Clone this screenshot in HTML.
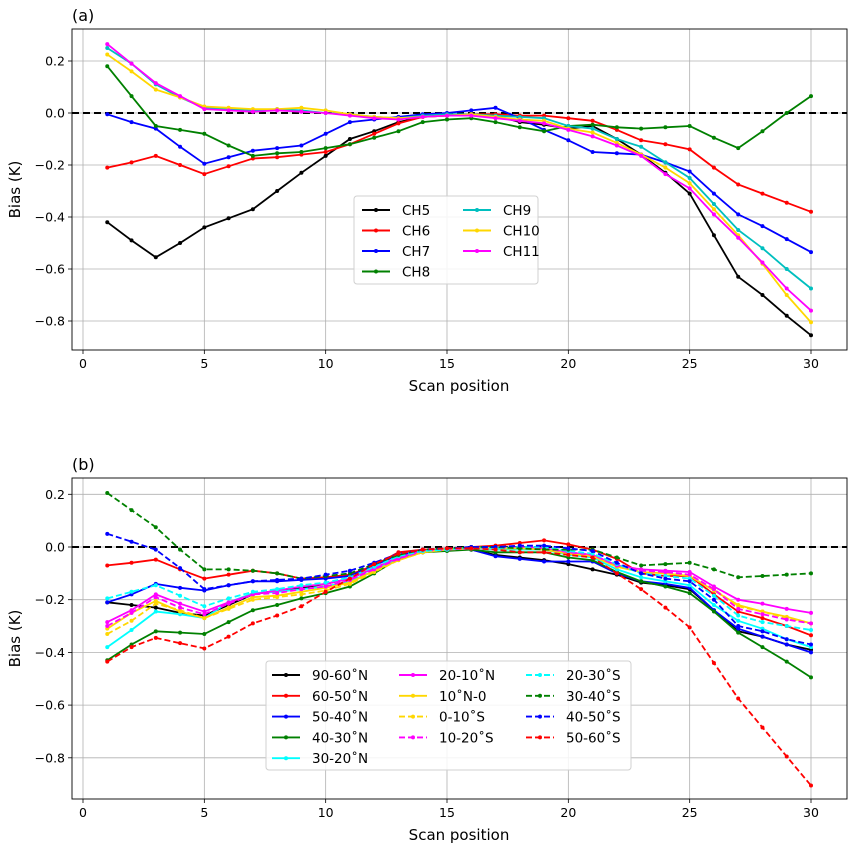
<!DOCTYPE html>
<html><head><meta charset="utf-8">
<style>
body{margin:0;background:#fff;}
svg{display:block;font-family:"DejaVu Sans","Liberation Sans",sans-serif;}
</style></head>
<body>
<svg id="fig" width="856" height="851" viewBox="0 0 856 851" xmlns="http://www.w3.org/2000/svg"></svg>
<script>
const scanPositions = Array.from({length:30},(_,i)=>i+1);
const xTicks = [0,5,10,15,20,25,30];
const yTicks = [0.2,0.0,-0.2,-0.4,-0.6,-0.8];
const yTickLabels = ["0.2","0.0","−0.2","−0.4","−0.6","−0.8"];

const chNames = ["CH5","CH6","CH7","CH8","CH9","CH10","CH11"];
const chColors = ["#000000","#ff0000","#0000ff","#008000","#00bfbf","#ffd700","#ff00ff"];
const ch5 = [-0.42,-0.49,-0.555,-0.50,-0.44,-0.405,-0.37,-0.30,-0.23,-0.165,-0.10,-0.07,-0.035,-0.015,-0.01,-0.005,-0.01,-0.035,-0.045,-0.06,-0.05,-0.1,-0.16,-0.23,-0.31,-0.47,-0.63,-0.70,-0.78,-0.855];
const ch6 = [-0.21,-0.19,-0.165,-0.20,-0.235,-0.205,-0.175,-0.17,-0.16,-0.15,-0.12,-0.08,-0.04,-0.015,-0.01,-0.005,-0.005,-0.01,-0.01,-0.02,-0.03,-0.065,-0.105,-0.12,-0.14,-0.21,-0.275,-0.31,-0.345,-0.38];
const ch7 = [-0.005,-0.035,-0.06,-0.13,-0.195,-0.17,-0.145,-0.135,-0.125,-0.08,-0.035,-0.025,-0.015,-0.005,0.0,0.01,0.02,-0.02,-0.065,-0.105,-0.15,-0.155,-0.16,-0.19,-0.225,-0.31,-0.39,-0.435,-0.485,-0.535];
const ch8 = [0.18,0.065,-0.05,-0.065,-0.08,-0.125,-0.165,-0.155,-0.15,-0.135,-0.12,-0.095,-0.07,-0.035,-0.025,-0.02,-0.035,-0.055,-0.07,-0.05,-0.045,-0.055,-0.06,-0.055,-0.05,-0.095,-0.135,-0.07,0.0,0.065];
const ch9 = [0.25,0.19,0.11,0.06,0.02,0.015,0.01,0.015,0.01,0.0,-0.005,-0.015,-0.02,-0.01,-0.005,-0.005,-0.01,-0.015,-0.02,-0.05,-0.06,-0.1,-0.13,-0.19,-0.25,-0.35,-0.45,-0.52,-0.6,-0.675];
const ch10 = [0.225,0.16,0.09,0.06,0.025,0.02,0.015,0.015,0.02,0.01,-0.005,-0.015,-0.02,-0.015,-0.01,-0.005,-0.015,-0.025,-0.03,-0.06,-0.075,-0.115,-0.16,-0.21,-0.27,-0.37,-0.47,-0.58,-0.7,-0.805];
const ch11 = [0.265,0.19,0.115,0.065,0.015,0.01,0.005,0.01,0.005,0.0,-0.01,-0.02,-0.025,-0.015,-0.01,-0.01,-0.02,-0.03,-0.04,-0.065,-0.09,-0.125,-0.165,-0.235,-0.29,-0.39,-0.48,-0.575,-0.675,-0.76];

const latNames = ["90-60˚N","60-50˚N","50-40˚N","40-30˚N","30-20˚N","20-10˚N","10˚N-0","0-10˚S","10-20˚S","20-30˚S","30-40˚S","40-50˚S","50-60˚S"];
const latColors = ["#000000","#ff0000","#0000ff","#008000","#00ffff","#ff00ff","#ffd700","#ffd700","#ff00ff","#00ffff","#008000","#0000ff","#ff0000"];
const latDashed = [false,false,false,false,false,false,false,true,true,true,true,true,true];
const lat1 = [-0.21,-0.22,-0.23,-0.25,-0.26,-0.22,-0.18,-0.165,-0.155,-0.14,-0.12,-0.08,-0.04,-0.02,-0.01,-0.01,-0.03,-0.04,-0.05,-0.065,-0.085,-0.105,-0.135,-0.145,-0.16,-0.24,-0.32,-0.34,-0.37,-0.39];
const lat2 = [-0.07,-0.06,-0.048,-0.085,-0.12,-0.105,-0.09,-0.1,-0.12,-0.115,-0.105,-0.07,-0.02,-0.01,-0.01,0.0,0.005,0.015,0.025,0.01,-0.01,-0.045,-0.1,-0.11,-0.11,-0.18,-0.245,-0.27,-0.3,-0.335];
const lat3 = [-0.21,-0.18,-0.14,-0.155,-0.165,-0.145,-0.13,-0.13,-0.125,-0.12,-0.11,-0.07,-0.03,-0.015,-0.01,-0.01,-0.035,-0.045,-0.055,-0.055,-0.055,-0.1,-0.13,-0.14,-0.155,-0.24,-0.31,-0.34,-0.37,-0.4];
const lat4 = [-0.43,-0.37,-0.32,-0.325,-0.33,-0.285,-0.24,-0.22,-0.195,-0.175,-0.15,-0.1,-0.045,-0.02,-0.015,-0.01,-0.02,-0.02,-0.02,-0.04,-0.05,-0.095,-0.13,-0.15,-0.175,-0.245,-0.325,-0.38,-0.435,-0.495];
const lat5 = [-0.38,-0.315,-0.245,-0.255,-0.27,-0.21,-0.175,-0.17,-0.16,-0.15,-0.13,-0.09,-0.04,-0.015,-0.01,-0.005,-0.01,-0.01,-0.01,-0.03,-0.04,-0.085,-0.115,-0.13,-0.145,-0.22,-0.28,-0.31,-0.35,-0.38];
const lat6 = [-0.285,-0.24,-0.18,-0.215,-0.245,-0.21,-0.18,-0.165,-0.15,-0.14,-0.12,-0.08,-0.04,-0.015,-0.01,-0.005,-0.005,0.0,-0.005,-0.02,-0.03,-0.07,-0.085,-0.09,-0.095,-0.15,-0.2,-0.215,-0.235,-0.25];
const lat7 = [-0.31,-0.25,-0.205,-0.245,-0.27,-0.23,-0.19,-0.185,-0.17,-0.155,-0.135,-0.09,-0.05,-0.02,-0.01,-0.005,-0.005,-0.005,-0.01,-0.025,-0.035,-0.075,-0.095,-0.1,-0.11,-0.165,-0.22,-0.245,-0.265,-0.29];
const lat8 = [-0.33,-0.28,-0.215,-0.24,-0.27,-0.235,-0.2,-0.19,-0.18,-0.165,-0.14,-0.095,-0.05,-0.02,-0.01,-0.005,-0.005,-0.005,-0.01,-0.025,-0.035,-0.07,-0.09,-0.1,-0.105,-0.16,-0.225,-0.245,-0.27,-0.29];
const lat9 = [-0.3,-0.25,-0.19,-0.23,-0.255,-0.215,-0.18,-0.175,-0.16,-0.15,-0.125,-0.085,-0.045,-0.015,-0.01,-0.005,-0.005,0.0,-0.005,-0.02,-0.03,-0.07,-0.09,-0.095,-0.105,-0.16,-0.235,-0.255,-0.275,-0.29];
const lat10 = [-0.195,-0.17,-0.145,-0.185,-0.225,-0.195,-0.17,-0.16,-0.145,-0.135,-0.115,-0.075,-0.035,-0.015,-0.01,0.0,-0.005,0.0,0.0,-0.015,-0.025,-0.065,-0.1,-0.11,-0.12,-0.185,-0.26,-0.285,-0.3,-0.315];
const lat11 = [0.205,0.14,0.075,-0.01,-0.085,-0.085,-0.09,-0.1,-0.12,-0.11,-0.1,-0.065,-0.03,-0.01,-0.005,0.0,0.0,-0.005,-0.01,-0.01,-0.01,-0.04,-0.07,-0.065,-0.06,-0.085,-0.115,-0.11,-0.105,-0.1];
const lat12 = [0.05,0.02,-0.01,-0.08,-0.16,-0.145,-0.13,-0.125,-0.12,-0.105,-0.09,-0.06,-0.025,-0.01,-0.005,0.0,0.0,0.005,0.005,-0.005,-0.015,-0.06,-0.1,-0.12,-0.13,-0.2,-0.3,-0.32,-0.35,-0.37];
const lat13 = [-0.435,-0.38,-0.345,-0.365,-0.385,-0.34,-0.29,-0.26,-0.225,-0.17,-0.12,-0.065,-0.025,-0.01,-0.005,-0.005,-0.01,-0.02,-0.02,-0.03,-0.04,-0.1,-0.16,-0.23,-0.305,-0.44,-0.575,-0.685,-0.795,-0.905];

const NS="http://www.w3.org/2000/svg";
const svg=document.getElementById('fig');
function mk(tag,attrs,parent){const e=document.createElementNS(NS,tag);for(const k in attrs)e.setAttribute(k,attrs[k]);(parent||svg).appendChild(e);return e;}

function panel(cfg){
  const {top,bottom,y0px,y02px,label,id,series,colors,dashed,names}=cfg;
  const left=72,right=847;
  const xs=v=>83+(v/30)*(811-83);
  const ys=v=>y0px-(v/0.2)*(y0px-y02px);
  const g=mk('g',{});
  
  
  const clipId='clip'+id;
  const cp=mk('clipPath',{id:clipId},g);mk('rect',{x:left,y:top,width:right-left,height:bottom-top},cp);
  xTicks.forEach(t=>{const l=mk('line',{x1:xs(t),x2:xs(t),y1:top,y2:bottom,stroke:'#b0b0b0','stroke-width':0.8},g);});
  yTicks.forEach(t=>{const l=mk('line',{x1:left,x2:right,y1:ys(t),y2:ys(t),stroke:'#b0b0b0','stroke-width':0.8},g);});
  const z=mk('line',{x1:left,x2:right,y1:ys(0),y2:ys(0),stroke:'#000','stroke-width':2,'stroke-dasharray':'7,4'},g);
  
  const sg=mk('g',{'clip-path':'url(#'+clipId+')'},g);
  series.forEach((s,i)=>{
    const pts=s.map((v,j)=>xs(scanPositions[j]).toFixed(1)+','+ys(v).toFixed(1)).join(' ');
    const pl=mk('polyline',{points:pts,fill:'none',stroke:colors[i],'stroke-width':1.8,'stroke-dasharray':dashed&&dashed[i]?'6,3':'none'},sg);
    
    
    s.forEach((v,j)=>{const c=mk('circle',{cx:xs(scanPositions[j]),cy:ys(v),r:2,fill:colors[i]},sg);
      });
  });
  const fr=mk('rect',{x:left,y:top,width:right-left,height:bottom-top,fill:'none',stroke:'#000','stroke-width':0.9},g);
  
  xTicks.forEach(t=>{mk('line',{x1:xs(t),x2:xs(t),y1:bottom,y2:bottom+4,stroke:'#000','stroke-width':0.8},g);
    const tx=mk('text',{x:xs(t),y:bottom+18,'font-size':12.5,'text-anchor':'middle'},g);tx.textContent=t;
    });
  yTicks.forEach((t,i)=>{mk('line',{x1:left-4,x2:left,y1:ys(t),y2:ys(t),stroke:'#000','stroke-width':0.8},g);
    const tx=mk('text',{x:left-7,y:ys(t)+4.5,'font-size':12.5,'text-anchor':'end'},g);tx.textContent=yTickLabels[i];
    });
  const xl=mk('text',{x:459,y:bottom+41,'font-size':15,'text-anchor':'middle'},g);xl.textContent='Scan position';
  
  const yl=mk('text',{x:20,y:(top+bottom)/2,'font-size':15,'text-anchor':'middle',transform:'rotate(-90 20 '+((top+bottom)/2)+')'},g);yl.textContent='Bias (K)';
  
  const pl=mk('text',{x:72,y:top-8,'font-size':16},g);pl.textContent=label;
  
  return g;
}

panel({top:29,bottom:350,y0px:113,y02px:61,label:'(a)',id:'a',series:[ch5,ch6,ch7,ch8,ch9,ch10,ch11],colors:chColors,names:chNames});
panel({top:478,bottom:799,y0px:547,y02px:494.3,label:'(b)',id:'b',series:[lat1,lat2,lat3,lat4,lat5,lat6,lat7,lat8,lat9,lat10,lat11,lat12,lat13],colors:latColors,dashed:latDashed,names:latNames});

function legend(cfg){
  const {x,y,w,h,cols,rowH,names,colors,dashed,id}=cfg;
  const g=mk('g',{});
  
  
  mk('rect',{x,y,width:w,height:h,rx:3,fill:'#fff','fill-opacity':0.85,stroke:'#d0d0d0','stroke-width':1},g);
  names.forEach((n,i)=>{
    const c=cols.find((cc,k)=>i<cc.end);const ci=cols.indexOf(c);const start=ci===0?0:cols[ci-1].end;const r=i-start;
    const yy=y+14+r*rowH;
    const e=mk('g',{},g);
    
    
    mk('line',{x1:c.x,x2:c.x+28,y1:yy,y2:yy,stroke:colors[i],'stroke-width':1.9,'stroke-dasharray':dashed&&dashed[i]?'6,3':'none'},e);
    mk('circle',{cx:c.x+14,cy:yy,r:2,fill:colors[i]},e);
    const t=mk('text',{x:c.x+40,y:yy+5,'font-size':13.5},e);t.textContent=n;
  });
}
legend({id:'legend-a',x:354,y:196,w:184,h:88,rowH:20.5,cols:[{x:362,end:4},{x:463,end:7}],names:chNames,colors:chColors});
legend({id:'legend-b',x:266,y:661,w:365,h:109,rowH:20.8,cols:[{x:272,end:5},{x:399,end:9},{x:526,end:13}],names:latNames,colors:latColors,dashed:latDashed});
</script>
</body></html>
